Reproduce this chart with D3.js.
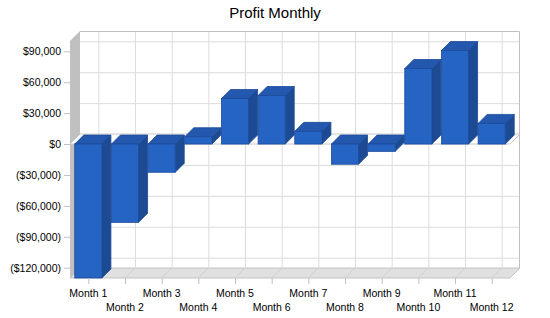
<!DOCTYPE html>
<html><head><meta charset="utf-8">
<script src="https://cdn.jsdelivr.net/npm/d3@7"></script>
<style>body{margin:0;background:#fff}svg{display:block}text{font-family:"Liberation Sans",Arial,sans-serif}</style>
</head><body><svg id="c" width="550" height="318"></svg>
<script>
const months = ["Month 1","Month 2","Month 3","Month 4","Month 5","Month 6","Month 7","Month 8","Month 9","Month 10","Month 11","Month 12"];
const profit = [-130000,-76000,-27400,7100,44200,47100,12300,-19600,-7100,73300,90700,20000];
const yTicks = [-120000,-90000,-60000,-30000,0,30000,60000,90000];
const title = "Profit Monthly";

const svg = d3.select("#c");
const X0 = 70, X1 = 510, DX = 10, DY = -10, BD = 9;
const x = d3.scaleBand().domain(months).range([X0, X1]).paddingInner(0.26).paddingOuter(0.13);
const y = d3.scaleLinear().domain([-130000, 100000]).range([278, 41]);
const yTop = y(100000), yBot = y(-130000);
const fmt = v => v === 0 ? "$0" : (v < 0 ? "($" + d3.format(",")(-v) + ")" : "$" + d3.format(",")(v));
const cx = m => x(m) + x.bandwidth() / 2;

svg.append("text").attr("x", 275).attr("y", 18).attr("text-anchor", "middle")
  .attr("font-size", 15).attr("fill", "#000").text(title);

// back wall
svg.append("rect").attr("x", X0 + DX).attr("y", yTop + DY).attr("width", X1 - X0).attr("height", yBot - yTop)
  .attr("fill", "#fff");
// left wall
svg.append("polygon").attr("points", [[X0, yTop], [X0 + DX, yTop + DY], [X0 + DX, yBot + DY], [X0, yBot]].join(" "))
  .attr("fill", "#c0c0c0");
// floor
svg.append("polygon").attr("points", [[X0, yBot], [X0 + DX, yBot + DY], [X1 + DX, yBot + DY], [X1, yBot]].join(" "))
  .attr("fill", "#e0e0e0").attr("stroke", "#c4c4c4").attr("stroke-width", 1);

// gridlines on back wall
svg.append("g").selectAll("line").data(yTicks).join("line")
  .attr("x1", X0 + DX).attr("x2", X1 + DX).attr("y1", d => y(d) + DY + 0.5).attr("y2", d => y(d) + DY + 0.5)
  .attr("stroke", "#dcdcdc");
svg.append("g").selectAll("line").data(months).join("line")
  .attr("x1", d => cx(d) + DX + 0.5).attr("x2", d => cx(d) + DX + 0.5).attr("y1", yTop + DY).attr("y2", yBot + DY)
  .attr("stroke", "#dcdcdc");
// floor diagonals
svg.append("g").selectAll("line").data(months).join("line")
  .attr("x1", d => cx(d)).attr("x2", d => cx(d) + DX).attr("y1", yBot).attr("y2", yBot + DY)
  .attr("stroke", "#cfcfcf");
// back wall border
svg.append("polyline").attr("points", [[X0 + DX, yTop + DY + 0.5], [X1 + DX - 0.5, yTop + DY + 0.5], [X1 + DX - 0.5, yBot + DY]].join(" "))
  .attr("fill", "none").attr("stroke", "#c0c0c0");

// zero plane
const y0 = y(0);
svg.append("polygon").attr("points", [[X0, y0], [X0 + DX, y0 + DY], [X1 + DX, y0 + DY], [X1, y0]].join(" "))
  .attr("fill", "#fff").attr("stroke", "#c8c8c8");

// bars
const g = svg.append("g");
months.forEach((m, i) => {
  const v = profit[i];
  const xl = x(m), xr = xl + x.bandwidth();
  const yt = Math.min(y(v), y0), yb = Math.max(y(v), y0);
  // side
  g.append("polygon").attr("points", [[xr, yt], [xr + BD, yt - BD], [xr + BD, yb - BD], [xr, yb]].join(" "))
    .attr("fill", "#1d4b93").attr("stroke", "#1c4790").attr("stroke-width", 0.8);
  // top
  g.append("polygon").attr("points", [[xl, yt], [xl + BD, yt - BD], [xr + BD, yt - BD], [xr, yt]].join(" "))
    .attr("fill", "#2358ae").attr("stroke", "#1c4a9c").attr("stroke-width", 0.8);
  // front
  g.append("rect").attr("x", xl).attr("y", yt).attr("width", x.bandwidth()).attr("height", yb - yt)
    .attr("fill", "#2564c2").attr("stroke", "#1c4a9c").attr("stroke-width", 0.8);
});

// y axis ticks and labels
const ya = svg.append("g");
yTicks.forEach(t => {
  ya.append("line").attr("x1", 64).attr("x2", X0).attr("y1", y(t) + 0.5).attr("y2", y(t) + 0.5).attr("stroke", "#c0c0c0");
  ya.append("text").attr("x", 61).attr("y", y(t) + 4).attr("text-anchor", "end").attr("font-size", 10.5)
    .attr("fill", "#000").text(fmt(t));
});
// x axis ticks and labels
const xa = svg.append("g");
months.forEach((m, i) => {
  xa.append("line").attr("x1", cx(m) + 0.5).attr("x2", cx(m) + 0.5).attr("y1", yBot).attr("y2", yBot + 6).attr("stroke", "#c0c0c0");
  xa.append("text").attr("x", cx(m)).attr("y", i % 2 === 0 ? 297 : 311).attr("text-anchor", "middle")
    .attr("font-size", 10.5).attr("fill", "#000").text(m);
});
</script></body></html>
